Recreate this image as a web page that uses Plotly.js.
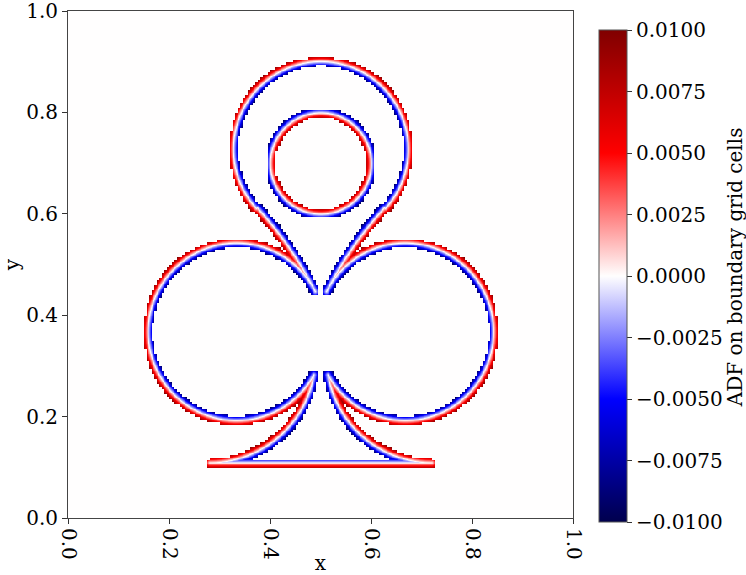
<!DOCTYPE html>
<html>
<head>
<meta charset="utf-8">
<script src="https://cdn.plot.ly/plotly-3.0.1.min.js"></script>
<style>
html,body{margin:0;padding:0;background:#fff;}
#chart{width:746px;height:575px;}
</style>
</head>
<body>
<div id="chart"></div>
<script>
// ---- Club outline (counter-clockwise arcs, angles in degrees) ----
// order: right stem, right lobe, right neck, top loop, left neck, left lobe, left stem
// (the closing edge from the last point back to the first is the flat base at y = 0.11)
const arcCx    = [0.72,   0.667, 1.175, 0.5,   -0.175, 0.333, 0.28];
const arcCy    = [0.319,  0.368, 0.109, 0.728,  0.109, 0.368, 0.319];
const arcR     = [0.2091, 0.175, 0.745, 0.173,  0.745, 0.175, 0.2091];
const arcStart = [270,    209,   153,   -42.5,  42.5,  27,    -9.9];
const arcEnd   = [189.9,  513,   137.5, 222.5,  27,    331,   -90];
// hole in the top loop
const holeCx = [0.5], holeCy = [0.70], holeR = [0.1], holeStart = [360], holeEnd = [0];

const gridCell = 0.005;       // boundary grid cell size (200 x 200 grid)
const samplesPerCell = 3;     // image samples per grid cell
const adfScale = 0.8;         // ADF magnitude relative to exact distance
const colorTicks = [-0.01,-0.0075,-0.005,-0.0025,0,0.0025,0.005,0.0075,0.01];
const colorTickText = ['\u22120.0100','\u22120.0075','\u22120.0050','\u22120.0025','0.0000','0.0025','0.0050','0.0075','0.0100'];
const colorbarTitle = 'ADF on boundary grid cells';
const axisTicks = [0,0.2,0.4,0.6,0.8,1.0];
const axisTickText = ['0.0','0.2','0.4','0.6','0.8','1.0'];

// ---- geometry helpers ----
function buildRing(cxs, cys, rs, a0s, a1s, step){
  const pts = [];
  for (let k=0;k<cxs.length;k++){
    const a0 = a0s[k]*Math.PI/180, span = (a1s[k]-a0s[k])*Math.PI/180;
    const n = Math.max(2, Math.ceil(Math.abs(span)*rs[k]/step));
    for (let i=0;i<=n;i++){
      const a = a0 + span*i/n;
      pts.push([cxs[k]+rs[k]*Math.cos(a), cys[k]+rs[k]*Math.sin(a)]);
    }
  }
  return pts;
}
const rings = [
  buildRing(arcCx, arcCy, arcR, arcStart, arcEnd, 0.001),
  buildRing(holeCx, holeCy, holeR, holeStart, holeEnd, 0.001)
];
const edges = [];
rings.forEach(r => { for (let i=0;i<r.length;i++){ const a=r[i], b=r[(i+1)%r.length]; edges.push([a[0],a[1],b[0],b[1]]); } });

const NC = Math.round(1/gridCell);
const N = NC*samplesPerCell;

// buckets for distance queries
const NB = 50, bs = 1/NB;
const buckets = Array.from({length:NB*NB}, () => []);
edges.forEach((e,idx) => {
  const i0 = Math.max(0,Math.floor(Math.min(e[0],e[2])/bs)), i1 = Math.min(NB-1,Math.floor(Math.max(e[0],e[2])/bs));
  const j0 = Math.max(0,Math.floor(Math.min(e[1],e[3])/bs)), j1 = Math.min(NB-1,Math.floor(Math.max(e[1],e[3])/bs));
  for (let j=j0;j<=j1;j++) for (let i=i0;i<=i1;i++) buckets[j*NB+i].push(idx);
});
function dist(px,py){
  const bi = Math.min(NB-1,Math.floor(px/bs)), bj = Math.min(NB-1,Math.floor(py/bs));
  let best = Infinity;
  for (let j=bj-1;j<=bj+1;j++){ if (j<0||j>=NB) continue;
    for (let i=bi-1;i<=bi+1;i++){ if (i<0||i>=NB) continue;
      const list = buckets[j*NB+i];
      for (let t=0;t<list.length;t++){
        const e = edges[list[t]];
        const dx=e[2]-e[0], dy=e[3]-e[1], l2=dx*dx+dy*dy;
        let u = l2>0 ? ((px-e[0])*dx+(py-e[1])*dy)/l2 : 0;
        u = u<0?0:(u>1?1:u);
        const qx=e[0]+u*dx-px, qy=e[1]+u*dy-py, d2=qx*qx+qy*qy;
        if (d2<best) best=d2;
      }
    }
  }
  return Math.sqrt(best);
}

// cut cells (curve passes through the cell interior) and near cells
const cut = new Uint8Array(NC*NC), near = new Uint8Array(NC*NC);
edges.forEach(e => {
  const len = Math.hypot(e[2]-e[0], e[3]-e[1]);
  const m = Math.ceil(len/0.0002)+1;
  for (let s=0;s<=m;s++){
    const x = e[0]+(e[2]-e[0])*s/m, y = e[1]+(e[3]-e[1])*s/m;
    const fx = x/gridCell, fy = y/gridCell;
    const i = Math.floor(fx+1e-9), j = Math.floor(fy+1e-9);
    if (i<0||j<0||i>=NC||j>=NC) continue;
    near[j*NC+i] = 1;
    const rx = fx - Math.round(fx), ry = fy - Math.round(fy);
    if (Math.abs(rx)<1e-7 || Math.abs(ry)<1e-7) continue;
    cut[j*NC+i] = 1;
  }
});
function dilate(src){
  const out = new Uint8Array(NC*NC);
  for (let j=0;j<NC;j++) for (let i=0;i<NC;i++){
    if (!src[j*NC+i]) continue;
    for (let b=-1;b<=1;b++) for (let a=-1;a<=1;a++){
      const ii=i+a, jj=j+b; if (ii>=0&&jj>=0&&ii<NC&&jj<NC) out[jj*NC+ii]=1;
    }
  }
  return out;
}
const boundary = dilate(cut);
const candidate = dilate(near);

// scanline crossings for inside test
const xs = [], ys = [];
for (let k=0;k<N;k++){ xs.push((k+0.5)/N); ys.push((k+0.5)/N); }
const crossings = ys.map(y => {
  const c = [];
  edges.forEach(e => { if ((e[1]>y)!==(e[3]>y)) c.push(e[0]+(y-e[1])*(e[2]-e[0])/(e[3]-e[1])); });
  return c;
});

const z = Array.from({length:N}, () => new Array(N).fill(0));
for (let cj=0;cj<NC;cj++) for (let ci=0;ci<NC;ci++){
  if (!candidate[cj*NC+ci]) continue;
  const isB = boundary[cj*NC+ci];
  for (let b=0;b<samplesPerCell;b++) for (let a=0;a<samplesPerCell;a++){
    const si = ci*samplesPerCell+a, sj = cj*samplesPerCell+b;
    const px = xs[si], py = ys[sj];
    const d = dist(px,py);
    if (!isB && d > 0.003) continue;
    let cnt = 0; const cr = crossings[sj];
    for (let t=0;t<cr.length;t++) if (cr[t]>px) cnt++;
    z[sj][si] = ((cnt%2===1) ? -d : d) * adfScale;
  }
}

const serif = 'DejaVu Serif, serif';
const trace = {
  type:'heatmap', x: xs, y: ys, z: z,
  zmin:-0.01, zmax:0.01, zsmooth:'best', hoverinfo:'skip',
  colorscale:[[0,'rgb(0,0,77)'],[0.25,'rgb(0,0,255)'],[0.5,'rgb(255,254,254)'],[0.75,'rgb(255,0,0)'],[1,'rgb(128,0,0)']],
  colorbar:{
    x:1.0515, xanchor:'left', xref:'paper', xpad:0,
    y:0.477, yanchor:'middle', ypad:0,
    len:0.97, lenmode:'fraction', thickness:28, thicknessmode:'pixels',
    outlinewidth:1, outlinecolor:'#555',
    ticks:'outside', ticklen:5, tickwidth:1, tickcolor:'#333',
    tickvals: colorTicks, ticktext: colorTickText,
    tickfont:{family:serif, size:20, color:'#000'}
  }
};
const axisCommon = {
  range:[0,1], showgrid:false, zeroline:false, showline:true, mirror:true,
  linecolor:'#444', linewidth:1, ticks:'outside', ticklen:5, tickwidth:1, tickcolor:'#333',
  tickvals: axisTicks, ticktext: axisTickText, ticklabeloverflow:'allow',
  tickfont:{family:serif, size:20, color:'#000'}
};
const layout = {
  width:746, height:575,
  margin:{l:68, r:173, t:11, b:57},
  paper_bgcolor:'#fff', plot_bgcolor:'#fff',
  xaxis: Object.assign({}, axisCommon, {tickangle:90, title:{text:'x', font:{family:serif, size:20, color:'#000'}, standoff:4}}),
  yaxis: Object.assign({}, axisCommon, {title:{text:'y', font:{family:serif, size:20, color:'#000'}, standoff:3}}),
  annotations:[{
    text: colorbarTitle, xref:'paper', yref:'paper', x:1.321, y:0.495,
    xanchor:'center', yanchor:'middle', textangle:-90, showarrow:false,
    font:{family:serif, size:20, color:'#000'}
  }],
  showlegend:false
};
Plotly.newPlot('chart', [trace], layout, {staticPlot:true, displayModeBar:false});
</script>
</body>
</html>
